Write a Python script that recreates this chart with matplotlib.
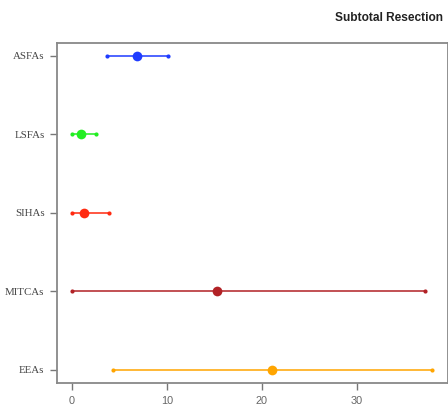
import numpy as np
import matplotlib.pyplot as plt

# categories, top to bottom
labels = ['ASFAs', 'LSFAs', 'SIHAs', 'MITCAs', 'EEAs']
# point estimate and interval
est = [6.9, 0.95, 1.35, 15.3, 21.1]
low = [3.7, 0.0, 0.0, 0.0, 4.4]
high = [10.1, 2.6, 3.9, 37.1, 37.9]
colors = ['#1f3cff', '#22ee22', '#ff2a10', '#b22226', '#ffa500']

ypos = np.arange(len(labels), 0, -1)

fig = plt.figure(figsize=(4.48, 4.05), dpi=100)
ax = fig.add_axes([57/448, (405-382.5)/405, (447.5-57)/448, (382.5-43.4)/405])

for y, e, lo, hi, c in zip(ypos, est, low, high, colors):
    ax.plot([lo, hi], [y, y], color=c, lw=1.3, alpha=0.85, solid_capstyle='butt')
    ax.plot([lo, hi], [y, y], 'o', color=c, ms=3, mec='none')
    ax.plot(e, y, 'o', color=c, ms=7, mec='none')

ax.set_xlim(-1.53, 39.5)
ax.set_ylim(0.84, 5.16)
ax.set_yticks(ypos)
ax.set_yticklabels(labels, family='Liberation Serif', fontsize=7.8, color='#444444')
ax.set_xticks([0, 10, 20, 30])
ax.set_xticklabels(['0', '10', '20', '30'], family='Liberation Sans', fontsize=7.8, color='#666666')
ax.tick_params(axis='y', length=5, color='#777777', width=1, pad=4)
ax.tick_params(axis='x', length=5, color='#777777', width=1, pad=4.5)
for s in ax.spines.values():
    s.set_color('#888888')
    s.set_linewidth(1.3)

fig.text(389/448, 1 - 18/405, 'Subtotal Resection', ha='center', va='center',
         fontsize=8.6, fontweight='bold', family='Liberation Sans', color='#222222')

fig.savefig('out.png', dpi=100)
